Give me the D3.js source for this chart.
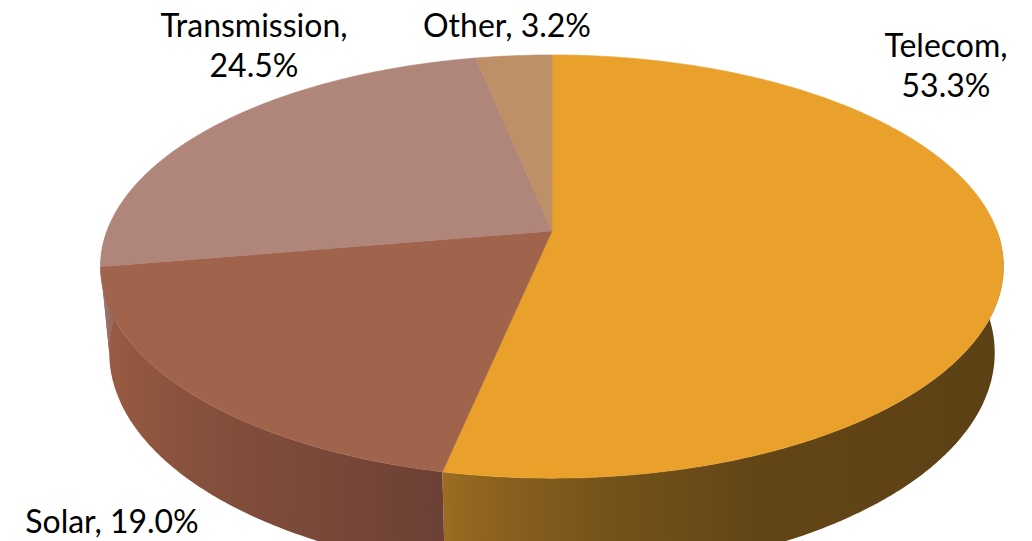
<!DOCTYPE html>
<html>
<head>
<meta charset="utf-8">
<script src="https://cdn.jsdelivr.net/npm/d3@7"></script>
<style>
  html, body { margin: 0; padding: 0; background: #ffffff; }
  svg { display: block; }
  text { font-family: Lato, "Open Sans", sans-serif; }
</style>
</head>
<body>
<svg id="chart" width="1032" height="541"></svg>
<script>
// Revenue share by segment (percent)
const categories = ["Telecom", "Solar", "Transmission", "Other"];
const shares = [53.3, 19.0, 24.5, 3.2];
// Label wrapping: true puts the percentage on its own line
const labelWrap = [true, false, true, false];

// Colours: top face and side wall gradient stops for each segment
const topColors = ["#E9A12B", "#A0634B", "#B0857A", "#BD9068"];
const sideStops = [
  [["0", "#9C6D22"], ["0.1", "#8A611E"], ["0.3", "#74521A"], ["0.55", "#634617"], ["1", "#5C4115"]],
  [["0", "#9A5B42"], ["0.3", "#85503D"], ["1", "#6C4035"]],
  [["0", "#A57A6E"], ["1", "#8E655A"]],
  [["0", "#A87E5A"], ["1", "#926C4C"]]
];

// Label placement (text centre, first baseline) and line height
const labelSpots = [[946, 57], [112, 533], [254, 37], [507, 37]];
const lineHeight = 40;

const svg = d3.select("#chart");

// Perspective view of a tilted disc: centre on screen, focal length,
// camera distance (in radii), tilt and wall thickness (in radii)
const cx = 552, cy = 231;
const focal = 2350, camDist = 5.28;
const tilt = Math.asin(0.462);
const thickness = 0.22;

function project(theta, r, w) {
  const u = r * Math.sin(theta), v = r * Math.cos(theta);
  const depth = camDist + v * Math.cos(tilt) - w * Math.sin(tilt);
  const vert = v * Math.sin(tilt) + w * Math.cos(tilt);
  return [cx + focal * u / depth, cy - focal * vert / depth];
}

const pie = d3.pie().sort(null).value(d => d.value);
const arcs = pie(categories.map((c, i) => ({ name: c, value: shares[i], i })));

function rimPoints(a0, a1, w) {
  const n = Math.max(2, Math.ceil(Math.abs(a1 - a0) / 0.01));
  return d3.range(n + 1).map(k => project(a0 + (a1 - a0) * k / n, 1, w));
}

const line = d3.line();
const defs = svg.append("defs");

// Side walls: only the front half of the rim can be seen
const sideG = svg.append("g");
arcs.forEach((a, i) => {
  const s = Math.max(a.startAngle, Math.PI * 0.5);
  const e = Math.min(a.endAngle, Math.PI * 1.5);
  if (e <= s) return;
  const top = rimPoints(s, e, 0);
  const bottom = rimPoints(e, s, -thickness);
  const xs = top.concat(bottom).map(p => p[0]);
  const [x0, x1] = d3.extent(xs);
  // Telecom's wall is lit from its left end, the others from their right end
  const grad = defs.append("linearGradient")
    .attr("id", "side" + i)
    .attr("gradientUnits", "userSpaceOnUse")
    .attr("x1", i === 0 ? x0 : x0).attr("x2", x1)
    .attr("y1", 0).attr("y2", 0);
  grad.selectAll("stop").data(sideStops[i]).join("stop")
    .attr("offset", d => d[0]).attr("stop-color", d => d[1]);
  sideG.append("path")
    .attr("d", line(top.concat(bottom)) + "Z")
    .attr("fill", `url(#side${i})`);
});

// Top faces
const topG = svg.append("g");
arcs.forEach((a, i) => {
  const pts = [project(0, 0, 0)].concat(rimPoints(a.startAngle, a.endAngle, 0));
  topG.append("path")
    .attr("d", line(pts) + "Z")
    .attr("fill", topColors[i])
    .attr("stroke", topColors[i])
    .attr("stroke-width", 0.6)
    .attr("stroke-linejoin", "round");
});

// Data labels
const fmt = d3.format(".1f");
const labelG = svg.append("g");
arcs.forEach((a, i) => {
  const lines = labelWrap[i]
    ? [categories[i] + ",", fmt(shares[i]) + "%"]
    : [categories[i] + ", " + fmt(shares[i]) + "%"];
  const t = labelG.append("text")
    .attr("x", labelSpots[i][0])
    .attr("y", labelSpots[i][1])
    .attr("text-anchor", "middle")
    .attr("font-size", 32)
    .attr("fill", "#000");
  lines.forEach((l, k) => {
    t.append("tspan")
      .attr("x", labelSpots[i][0])
      .attr("dy", k === 0 ? 0 : lineHeight)
      .text(l);
  });
});
</script>
</body>
</html>
